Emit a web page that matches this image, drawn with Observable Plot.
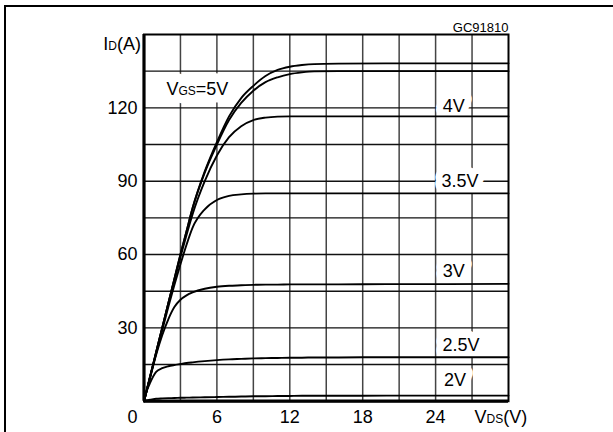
<!DOCTYPE html>
<html>
<head>
<meta charset="utf-8">
<script src="https://cdn.jsdelivr.net/npm/d3@7"></script>
<script src="https://cdn.jsdelivr.net/npm/@observablehq/plot@0.6"></script>
<style>
  html, body { margin: 0; padding: 0; background: #fff; }
  #wrap { position: relative; width: 613px; height: 432px; overflow: hidden; }
  #page-frame { position: absolute; left: 4px; top: 5px; width: 620px; height: 440px;
    border-top: 2px solid #000; border-left: 2px solid #000; }
  #chart { position: absolute; left: 0; top: 0; }
</style>
</head>
<body>
<div id="wrap"><div id="page-frame"></div><div id="chart"></div></div>
<script>
// V_DS sample points (V)
const vds = [0, 0.25, 0.5, 1, 1.5, 2, 2.5, 3, 3.5, 4, 5, 6, 7, 8, 9, 10, 11, 12, 13, 14, 16, 20, 25, 30];
// I_D (A) per curve
const idTop  = [0, 5, 10, 20, 30, 40, 50, 60, 69.5, 79, 94, 106, 116.5, 124, 129, 133, 135.5, 136.8, 137.5, 137.9, 138.1, 138.2, 138.2, 138.2];
const id5V   = [0, 5, 10, 20, 30, 40, 50, 60, 69.5, 79, 93.5, 105, 115, 122, 127, 130.5, 132.5, 133.8, 134.5, 134.9, 135, 135, 135, 135];
const id4V   = [0, 5, 10, 20, 30, 40, 49.5, 59, 68, 76.5, 90, 100.5, 108, 112.5, 115, 116, 116.4, 116.5, 116.5, 116.5, 116.5, 116.5, 116.5, 116.5];
const id35V  = [0, 5, 10, 19.5, 29, 38.5, 47.5, 56, 64, 71, 78.5, 82.3, 84, 84.6, 84.9, 85, 85, 85, 85, 85, 85, 85, 85, 85];
const id3V   = [0, 4.8, 9.5, 19, 27, 33.5, 38.5, 41.5, 43.3, 44.5, 46, 46.8, 47.2, 47.4, 47.6, 47.7, 47.7, 47.8, 47.8, 47.8, 47.8, 47.9, 47.9, 48];
const id25V  = [0, 4.5, 7.5, 12, 13.5, 14.3, 14.8, 15.2, 15.6, 15.9, 16.4, 16.8, 17.1, 17.3, 17.5, 17.6, 17.7, 17.8, 17.8, 17.9, 17.9, 18, 18, 18];
const id2V   = [0, 0.4, 0.6, 1.0, 1.15, 1.25, 1.3, 1.4, 1.45, 1.5, 1.6, 1.7, 1.8, 1.9, 2.0, 2.05, 2.1, 2.15, 2.2, 2.2, 2.2, 2.3, 2.3, 2.3];

const seriesNames = ["top", "5V", "4V", "3.5V", "3V", "2.5V", "2V"];
const seriesValues = [idTop, id5V, id4V, id35V, id3V, id25V, id2V];

// axes
const xTicks = [6, 12, 18, 24];
const yTicks = [30, 60, 90, 120];
const xGrid = [3, 6, 9, 12, 15, 18, 21, 24, 27];
const yGrid = [15, 30, 45, 60, 75, 90, 105, 120, 135];

// curve labels (text, V_DS, I_D)
const labelText = ["VGS=5V", "4V", "3.5V", "3V", "2.5V", "2V"];
const labelV    = [1.85, 25.5, 26.0, 25.5, 26.1, 25.6];
const labelI    = [127.8, 120.8, 89.8, 53.3, 22.8, 8.5];

// axis titles / code
const titleText = ["ID(A)", "VDS(V)"];
const titleV    = [-3.35, 27.2];
const titleI    = [146.2, -6.6];
const codeText  = ["GC91810"];

const curves = [];
seriesNames.forEach((name, k) => {
  vds.forEach((v, j) => curves.push({series: name, v, i: seriesValues[k][j]}));
});
const labels = labelText.map((t, k) => ({t, v: labelV[k], i: labelI[k], start: k === 0}));
const titles = titleText.map((t, k) => ({t, v: titleV[k], i: titleI[k]}));

const chart = Plot.plot({
  width: 613,
  height: 432,
  marginLeft: 143.5,
  marginRight: 105,
  marginTop: 34,
  marginBottom: 31.3,
  style: {fontSize: "18px", fontFamily: "'Liberation Sans', Arial, sans-serif", background: "transparent", color: "#000"},
  x: {domain: [0, 30], ticks: xTicks, tickSize: 0, tickPadding: 9, label: null},
  y: {domain: [0, 150], ticks: yTicks, tickSize: 0, tickPadding: 6.5, label: null},
  marks: [
    Plot.ruleX(xGrid, {stroke: "#444", strokeWidth: 1.5}),
    Plot.ruleY(yGrid, {stroke: "#111", strokeWidth: 1.4}),
    // white boxes behind labels
    Plot.text(labels.filter(d => !d.start), {x: "v", y: "i", text: "t", fill: "white", stroke: "white", strokeWidth: 14}),
    Plot.text(labels.filter(d => d.start), {x: "v", y: "i", text: "t", textAnchor: "start", fill: "white", stroke: "white", strokeWidth: 17}),
    Plot.line(curves, {x: "v", y: "i", z: "series", stroke: "#000", strokeWidth: 1.9, curve: "monotone-x"}),
    Plot.frame({stroke: "#000", strokeWidth: 2}),
    Plot.ruleX([0], {stroke: "#000", strokeWidth: 3.2}),
    Plot.ruleY([0], {stroke: "#000", strokeWidth: 3.2}),
    Plot.text(labels.filter(d => !d.start), {x: "v", y: "i", text: "t", fill: "#000"}),
    Plot.text(labels.filter(d => d.start), {x: "v", y: "i", text: "t", textAnchor: "start", fill: "#000"}),
    Plot.text(titles, {x: "v", y: "i", text: "t", textAnchor: "start", fill: "#000"}),
    Plot.text(codeText, {x: 30, y: 152.8, text: d => d, textAnchor: "end", fontSize: 13, fill: "#000"}),
    Plot.text(["0"], {x: 0, y: 0, text: d => d, dx: -11.5, dy: 16, fill: "#000"})
  ]
});

// small-caps style subscripts
d3.select(chart).selectAll("text").each(function () {
  const s = this.textContent;
  const m = /^([VI])(GS|DS|D)(.*)$/.exec(s);
  if (m && (s === "VGS=5V" || s === "ID(A)" || s === "VDS(V)")) {
    const el = d3.select(this);
    el.text(null);
    el.append("tspan").text(m[1]);
    el.append("tspan").attr("font-size", "12px").text(m[2]);
    el.append("tspan").text(m[3]);
  }
});

document.getElementById("chart").appendChild(chart);
</script>
</body>
</html>
